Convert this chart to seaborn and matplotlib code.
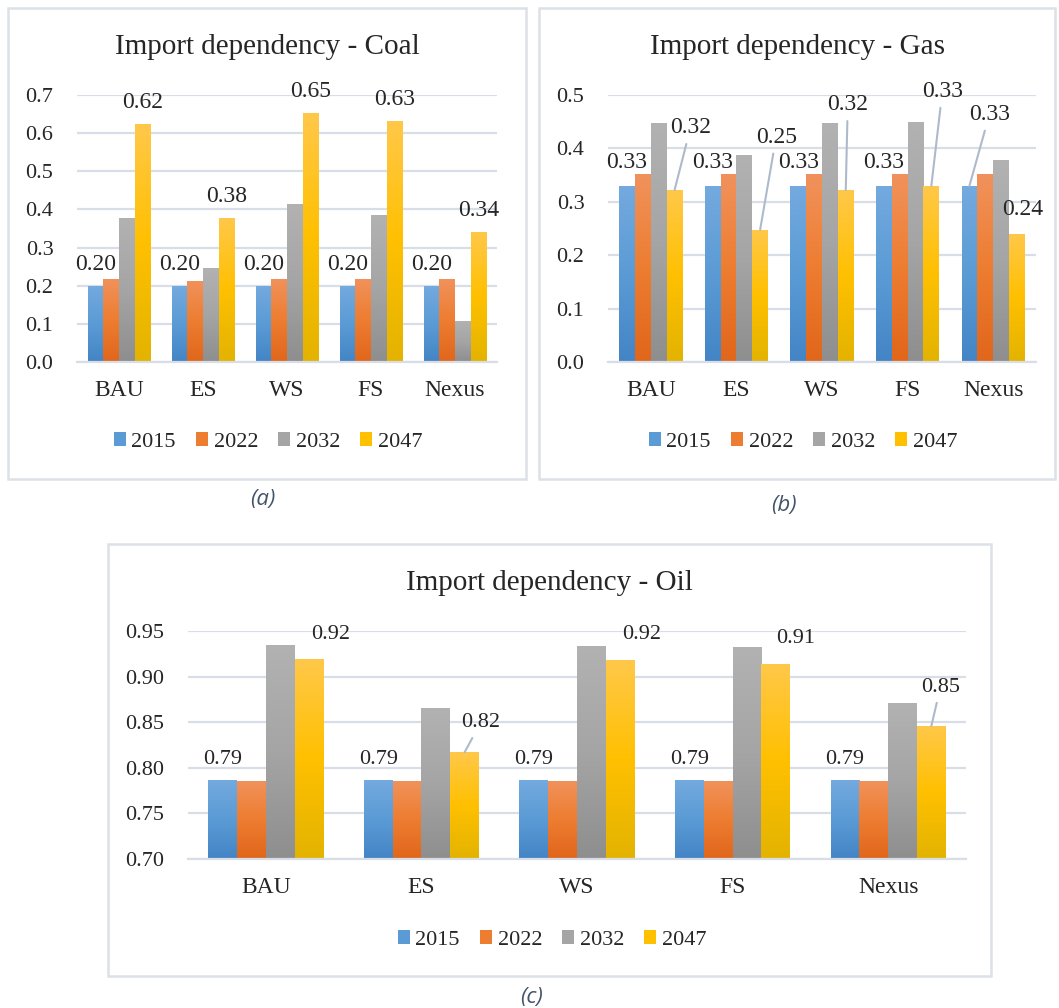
import numpy as np
import pandas as pd
import matplotlib
matplotlib.use("Agg")
import matplotlib.pyplot as plt
import seaborn as sns
from matplotlib.colors import LinearSegmentedColormap
from matplotlib.patches import Rectangle, Patch

# ---------------- data ----------------
scenarios = ["BAU", "ES", "WS", "FS", "Nexus"]
years = ["2015", "2022", "2032", "2047"]

coal_2015 = [0.20, 0.20, 0.20, 0.20, 0.20]
coal_2022 = [0.218, 0.213, 0.218, 0.218, 0.218]
coal_2032 = [0.378, 0.247, 0.414, 0.386, 0.108]
coal_2047 = [0.624, 0.378, 0.654, 0.632, 0.341]

gas_2015 = [0.33, 0.33, 0.33, 0.33, 0.33]
gas_2022 = [0.352, 0.352, 0.352, 0.352, 0.352]
gas_2032 = [0.448, 0.388, 0.448, 0.450, 0.378]
gas_2047 = [0.322, 0.248, 0.322, 0.330, 0.240]

oil_2015 = [0.787, 0.787, 0.787, 0.787, 0.787]
oil_2022 = [0.786, 0.786, 0.786, 0.786, 0.786]
oil_2032 = [0.935, 0.866, 0.934, 0.932, 0.871]
oil_2047 = [0.919, 0.817, 0.918, 0.914, 0.846]

titles = ["Import dependency - Coal", "Import dependency - Gas", "Import dependency - Oil"]
captions = ["(a)", "(b)", "(c)"]


def long_frame(series):
    rows = []
    for yr, vals in zip(years, series):
        for sc, v in zip(scenarios, vals):
            rows.append({"Scenario": sc, "Year": yr, "Value": v})
    return pd.DataFrame(rows)


coal_df = long_frame([coal_2015, coal_2022, coal_2032, coal_2047])
gas_df = long_frame([gas_2015, gas_2022, gas_2032, gas_2047])
oil_df = long_frame([oil_2015, oil_2022, oil_2032, oil_2047])

# ---------------- style ----------------
sns.set_style("white")
plt.rcParams["font.family"] = ["Liberation Serif", "DejaVu Serif"]

W, H = 1059, 1008
GRID = "#D9DEE6"
BORDER = "#DCE1E8"
LEADER = "#AEBACB"

base_colors = ["#5B9BD5", "#ED7D31", "#A5A5A5", "#FFC000"]
# bottom -> middle -> top shades for the bar gradients
gradients = [
    ["#4384C6", "#5B9BD5", "#74AADF"],
    ["#E0661B", "#ED7D31", "#F1925C"],
    ["#8E8E8E", "#A5A5A5", "#B2B2B2"],
    ["#E3B300", "#FFC000", "#FFC84A"],
]


def fx(x):
    return x / W


def fy(y):
    return 1 - y / H


def gradient_bars(ax, ylim):
    for container, cols in zip(ax.containers, gradients):
        cmap = LinearSegmentedColormap.from_list("g", cols)
        grad = np.linspace(0, 1, 256).reshape(-1, 1)
        for patch in container.patches:
            x0, w = patch.get_x(), patch.get_width()
            y0, h = patch.get_y(), patch.get_height()
            lo = max(y0, ylim[0])
            hi = y0 + h
            im = ax.imshow(grad, cmap=cmap, origin="lower", aspect="auto",
                           extent=[x0, x0 + w, lo, hi], interpolation="bilinear",
                           zorder=2)
            im.set_clip_path(patch)
            patch.set_facecolor("none")
            patch.set_edgecolor("none")


fig = plt.figure(figsize=(W / 100, H / 100), dpi=100)

panels = [
    dict(df=coal_df, axbox=(77, 95, 497, 362), ylim=(0.0, 0.7), step=0.1, fmt="{:.1f}",
         box=(8, 8, 526, 479), title_y=47, legend_xy=(268, 442), cap_xy=(263, 500),
         label_size=17,
         labels={
             "2015": [(0, 16, False)] * 5,
             "2047": [(0, 16, False)] * 5,
         }),
    dict(df=gas_df, axbox=(608, 95, 1036, 362), ylim=(0.0, 0.5), step=0.1, fmt="{:.1f}",
         box=(539, 8, 1055, 479), title_y=47, legend_xy=(803, 442), cap_xy=(784, 505),
         label_size=17,
         labels={
             "2015": [(0, 18, False), (0, 18, False), (0, 18, False), (0, 18, False), (20, 66, True)],
             "2047": [(16, 57, True), (16, 87, True), (2, 80, True), (11, 89, True), (6, 19, False)],
         }),
    dict(df=oil_df, axbox=(188, 631, 966, 859), ylim=(0.70, 0.95), step=0.05, fmt="{:.2f}",
         box=(108, 544, 991, 976), title_y=583, legend_xy=(552, 940), cap_xy=(532, 997),
         label_size=16,
         labels={
             "2015": [(0, 16, False)] * 5,
             "2047": [(22, 20, False), (16, 25, True), (21, 21, False), (20, 21, False), (9, 34, True)],
         }),
]

for i, p in enumerate(panels):
    x0, y0, x1, y1 = p["axbox"]
    ax = fig.add_axes([fx(x0), fy(y1), (x1 - x0) / W, (y1 - y0) / H])
    sns.barplot(data=p["df"], x="Scenario", y="Value", hue="Year", palette=base_colors,
                width=0.74, errorbar=None, ax=ax, legend=False, zorder=2)
    ylim = p["ylim"]
    gradient_bars(ax, ylim)
    ax.set_xlim(-0.5, 4.5)
    ax.set_ylim(*ylim)

    ticks = np.round(np.arange(ylim[0], ylim[1] + p["step"] / 2, p["step"]), 2)
    ax.set_yticks(ticks)
    ax.set_yticklabels([p["fmt"].format(t) for t in ticks])
    ax.yaxis.grid(True, color=GRID, linewidth=1.6, zorder=0)
    ax.set_axisbelow(True)
    ax.set_xlabel("")
    ax.set_ylabel("")
    for s in ["top", "right", "left"]:
        ax.spines[s].set_visible(False)
    ax.spines["bottom"].set_color(GRID)
    ax.spines["bottom"].set_linewidth(1.6)
    ax.spines["bottom"].set_zorder(3)
    ax.set_xticks(np.arange(-0.5, 5, 1), minor=True)
    ax.tick_params(axis="x", which="minor", length=7, width=1.6, color=GRID, direction="out")
    ax.tick_params(axis="x", which="major", length=0, pad=13, labelsize=17)
    ax.tick_params(axis="y", which="major", length=0, pad=17, labelsize=16)
    ax.set_facecolor("none")

    # data labels for first and last series
    for yr, cont in zip(years, ax.containers):
        if yr not in p["labels"]:
            continue
        for patch, (dx, dy, leader) in zip(cont.patches, p["labels"][yr]):
            val = patch.get_y() + patch.get_height()
            cx = patch.get_x() + patch.get_width() / 2
            txt = f"{val:.2f}"
            dx_pt, dy_pt = dx * 0.72, dy * 0.72
            kw = dict(xy=(cx, val), xytext=(dx_pt, dy_pt), textcoords="offset points",
                      ha="center", va="baseline", fontsize=p["label_size"], zorder=5,
                      annotation_clip=False)
            if leader:
                kw["arrowprops"] = dict(arrowstyle="-", color=LEADER, lw=1.5,
                                        shrinkA=2, shrinkB=0)
            ax.annotate(txt, **kw)

    # panel frame, title, legend and caption
    bx0, by0, bx1, by1 = p["box"]
    fig.patches.append(Rectangle((fx(bx0), fy(by1)), (bx1 - bx0) / W, (by1 - by0) / H,
                                 transform=fig.transFigure, fill=False,
                                 edgecolor=BORDER, linewidth=1.8, zorder=0))
    fig.text(fx((bx0 + bx1) / 2), fy(p["title_y"]), titles[i], ha="center", va="center",
             fontsize=21)
    handles = [Patch(facecolor=c, edgecolor="none") for c in base_colors]
    lx, ly = p["legend_xy"]
    ax.legend(handles, years, loc="center", bbox_to_anchor=(fx(lx), fy(ly)),
              bbox_transform=fig.transFigure, ncol=4, frameon=False, fontsize=16,
              handlelength=0.55, handleheight=0.55, handletextpad=0.25,
              columnspacing=0.9, borderaxespad=0, borderpad=0)
    cx_, cy_ = p["cap_xy"]
    fig.text(fx(cx_), fy(cy_), captions[i], ha="center", va="center", fontsize=16,
             style="italic", color="#44546A", family=["Open Sans", "DejaVu Sans"])

fig.savefig("out.png", dpi=100, facecolor="white")
